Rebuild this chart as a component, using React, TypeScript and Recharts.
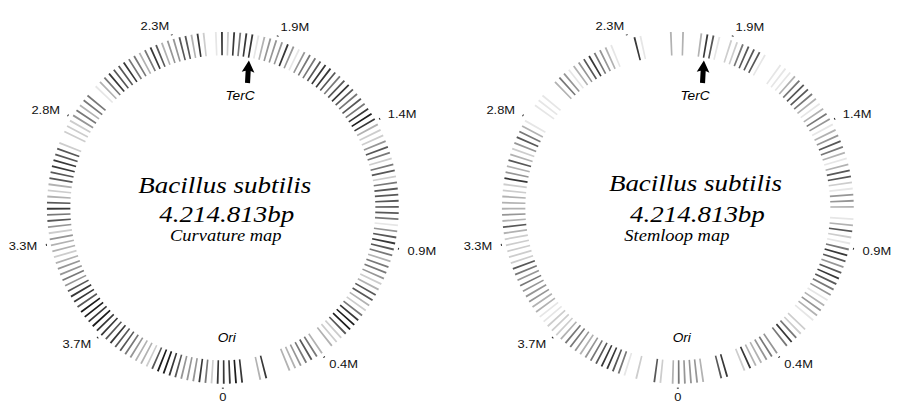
import React from "react";
import { RadialBarChart, Pie, Cell, PolarAngleAxis } from "recharts";

const GENOME_MB = 4.214813;
const TICKS_MB = [0, 0.4, 0.9, 1.4, 1.9, 2.3, 2.8, 3.3, 3.7];
const TICK_LABELS = ["0", "0.4M", "0.9M", "1.4M", "1.9M", "2.3M", "2.8M", "3.3M", "3.7M"];
const TERC_MB = 1.99;

// darkness of each 2° bin (0 = nothing, 8 = black), starting at Ori and running
// counter-clockwise on screen (0 -> 0.4M -> 0.9M ...)
const CURVATURE = [
  7, 7, 8, 7, 0, 0, 3, 7, 0, 0, 0, 3, 3, 4, 5, 6, 5, 3, 0, 3,
  2, 2, 6, 8, 8, 7, 5, 2, 3, 6, 6, 3, 2, 4, 5, 5, 3, 5, 6, 7,
  6, 4, 1, 5, 6, 6, 6, 6, 6, 5, 2, 6, 5, 2, 5, 6, 4, 2, 2, 3,
  7, 8, 7, 5, 6, 5, 6, 7, 6, 5, 6, 7, 7, 6, 5, 5, 4, 1, 4, 7,
  4, 4, 4, 3, 1, 7, 7, 5, 7, 2, 7, 1, 0, 2, 7, 3, 6, 6, 4, 4,
  3, 6, 7, 5, 3, 5, 5, 7, 6, 6, 7, 5, 3, 1, 0, 5, 5, 3, 5, 4,
  2, 2, 2, 0, 2, 6, 6, 7, 7, 6, 6, 3, 2, 3, 6, 7, 5, 6, 4, 2,
  4, 3, 3, 2, 3, 4, 4, 5, 4, 6, 7, 7, 6, 8, 8, 7, 8, 7, 7, 6,
  7, 6, 6, 5, 4, 3, 3, 2, 6, 8, 8, 7, 6, 4, 4, 4, 7, 5, 2, 7,
];

const STEMLOOP = [
  5, 4, 4, 4, 3, 0, 0, 6, 7, 0, 0, 2, 7, 3, 3, 4, 5, 4, 0, 5,
  7, 5, 2, 2, 0, 1, 3, 4, 3, 1, 4, 5, 6, 7, 6, 4, 6, 7, 5, 1,
  2, 6, 3, 1, 0, 3, 4, 4, 1, 2, 6, 6, 3, 1, 3, 5, 6, 4, 3, 1,
  4, 5, 3, 1, 3, 5, 6, 6, 5, 3, 1, 1, 1, 0, 0, 1, 6, 6, 6, 5,
  2, 2, 0, 1, 6, 7, 3, 0, 0, 3, 0, 3, 0, 0, 0, 0, 1, 7, 0, 0,
  0, 1, 3, 4, 5, 7, 6, 4, 3, 1, 4, 5, 3, 0, 0, 1, 1, 1, 0, 0,
  1, 3, 5, 6, 4, 2, 3, 6, 3, 4, 7, 2, 2, 3, 3, 3, 4, 3, 6, 3,
  2, 2, 2, 2, 2, 6, 5, 4, 5, 4, 4, 4, 3, 3, 1, 1, 2, 2, 2, 3,
  5, 5, 4, 3, 4, 5, 6, 7, 7, 6, 5, 1, 0, 2, 0, 0, 6, 2, 0, 3,
];

const SHADES = ["#ffffff", "#e6e6e6", "#cdcdcd", "#b2b2b2", "#969696", "#787878", "#585858", "#383838", "#1c1c1c"];

const W = 465;
const H = 401;
const CX = 228;
const CY = 208;
const R_TICK = 184;
const RAD = Math.PI / 180;

const sans = "'Liberation Sans', Arial, sans-serif";
const serif = "'Liberation Serif', 'Times New Roman', serif";

function AngleTick(props: any) {
  const { x, y, payload, index } = props;
  const a = payload.coordinate * RAD;
  const cos = Math.cos(a);
  const anchor = Math.abs(cos) < 0.05 ? "middle" : cos > 0 ? "start" : "end";
  const tx = x + 9 * cos;
  const ty = y - 9 * Math.sin(a);
  const i = TICKS_MB.indexOf(payload.value);
  return (
    <text
      transform={`translate(${tx} ${ty}) scale(1.2 1)`}
      textAnchor={anchor}
      dominantBaseline="central"
      fontFamily={sans}
      fontSize={11}
      fill="#111"
    >
      {TICK_LABELS[i >= 0 ? i : index]}
    </text>
  );
}

function StretchText({ x, y, size, sx, family, children }: any) {
  return (
    <text
      transform={`translate(${x} ${y}) scale(${sx} 1)`}
      textAnchor="middle"
      fontFamily={family}
      fontStyle="italic"
      fontSize={size}
      fill="#000"
    >
      {children}
    </text>
  );
}

function GenomeMap({ levels, mapName, nameDx, titleDx, titleDy }: any) {
  const bins = levels.map((level: number, i: number) => ({
    start: (i * GENOME_MB) / levels.length,
    size: GENOME_MB / levels.length,
    level,
  }));

  const terAngle = (TERC_MB / GENOME_MB) * 360; // from bottom, counter-clockwise
  const tipX = CX + 153 * Math.sin(terAngle * RAD);
  const tipY = CY + 153 * Math.cos(terAngle * RAD);

  return (
    <RadialBarChart
      width={W}
      height={H}
      cx={CX}
      cy={CY}
      innerRadius={0}
      outerRadius={R_TICK}
      startAngle={-90}
      endAngle={270}
      margin={{ top: 0, right: 0, bottom: 0, left: 0 }}
    >
      <PolarAngleAxis
        type="number"
        domain={[0, GENOME_MB]}
        allowDataOverflow
        ticks={TICKS_MB}
        axisLine={false}
        tickLine={{ stroke: "#222", strokeWidth: 2 }}
        tickSize={1}
        tick={AngleTick}
      />
      <Pie
        data={bins}
        dataKey="size"
        cx={CX}
        cy={CY}
        innerRadius={156}
        outerRadius={180}
        startAngle={-90}
        endAngle={270}
        paddingAngle={1.4}
        stroke="none"
        isAnimationActive={false}
      >
        {bins.map((b: any, i: number) => (
          <Cell key={i} fill={SHADES[b.level]} />
        ))}
      </Pie>

      <StretchText x={CX + titleDx} y={CY - 15 + titleDy} size={23} sx={1.2} family={serif}>
        Bacillus subtilis
      </StretchText>
      <StretchText x={CX + titleDx + 2} y={CY + 15} size={23} sx={1.2} family={serif}>
        4.214.813bp
      </StretchText>
      <StretchText x={CX + nameDx} y={CY + 34} size={18} sx={1.05} family={serif}>
        {mapName}
      </StretchText>

      <path
        transform={`translate(${tipX} ${tipY}) rotate(4)`}
        d="M0,0 L6.5,12 L2.6,10.6 L2.8,23 L-2.4,23 L-2.6,10.6 L-6.5,12 Z"
        fill="#000"
      />
      <text x={tipX - 9} y={tipY + 40} textAnchor="middle" fontFamily={sans} fontStyle="italic" fontSize={14} fill="#000">
        TerC
      </text>
      <text x={CX + 4} y={CY + 137} textAnchor="middle" fontFamily={sans} fontStyle="italic" fontSize={14} fill="#000">
        Ori
      </text>
    </RadialBarChart>
  );
}

export default function App() {
  return (
    <div style={{ position: "absolute", left: 0, top: 0, width: 909, height: 401, background: "#fff", display: "flex" }}>
      <GenomeMap levels={CURVATURE} mapName="Curvature map" nameDx={3} titleDx={2} titleDy={0} />
      <GenomeMap levels={STEMLOOP} mapName="Stemloop map" nameDx={-1} titleDx={18} titleDy={-2} />
    </div>
  );
}
